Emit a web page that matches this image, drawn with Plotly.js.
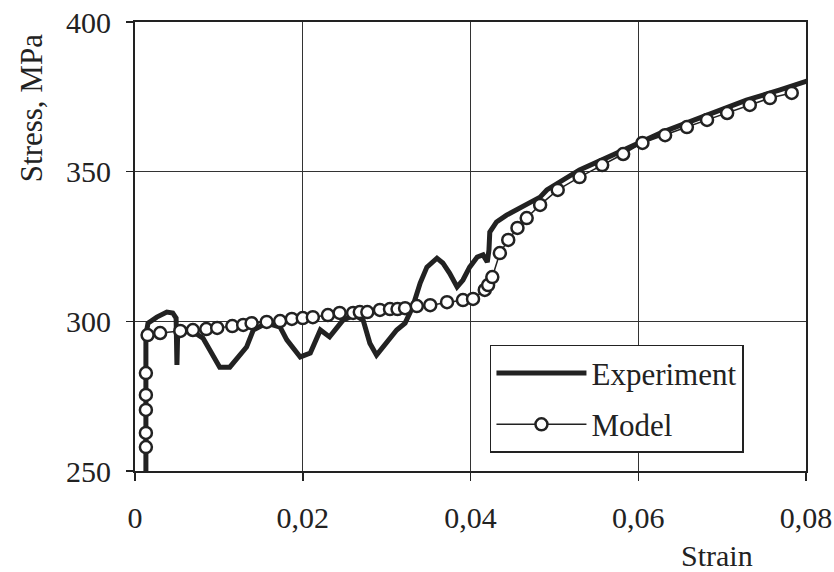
<!DOCTYPE html>
<html>
<head>
<meta charset="utf-8">
<script src="https://cdn.plot.ly/plotly-3.0.1.min.js"></script>
<style>
html,body{margin:0;padding:0;background:#fff;}
#chart{width:834px;height:572px;}
</style>
</head>
<body>
<div id="chart"></div>
<script>
// Experiment curve (strain, stress MPa)
var expStrain = [0.0013,0.0013,0.00155,0.0026,0.0038,0.0045,0.0049,0.0050,0.0051,0.0066,0.0081,0.0092,0.0101,0.0113,0.0125,0.0133,0.0141,0.0157,0.0173,0.0181,0.0197,0.0209,0.0221,0.0232,0.0248,0.0262,0.0272,0.0280,0.0288,0.0300,0.0312,0.0322,0.0331,0.0340,0.0348,0.0360,0.0367,0.0375,0.0384,0.0391,0.0399,0.0408,0.0415,0.0420,0.0422,0.0423,0.0431,0.0443,0.0459,0.0483,0.0491,0.0530,0.0570,0.0629,0.0682,0.0729,0.0769,0.0805];
var expStress = [250,295.4,299.4,301.4,303.1,302.8,301.1,285.4,297.8,297.1,294.4,288.7,284.7,284.7,288.7,291.4,297.1,299.4,298.1,293.8,288.1,289.4,297.1,294.8,300.4,302.1,300.4,292.7,288.7,292.7,297.1,299.4,304.8,312.8,318.1,321.1,319.5,316.1,311.5,313.8,318.1,321.5,322.2,319.8,323.8,329.8,333.2,335.5,337.9,341.5,343.9,350.6,355.6,363.2,368.9,373.9,377.3,380.6];

// Model points (strain, stress MPa)
var modStrain = [0.0013,0.0013,0.0013,0.0013,0.0013,0.0015,0.0030,0.0054,0.0069,0.0085,0.0098,0.0116,0.0129,0.0139,0.0157,0.0173,0.0187,0.0200,0.0212,0.0230,0.0244,0.0260,0.0268,0.0277,0.0292,0.0304,0.0313,0.0322,0.0336,0.0352,0.0372,0.0391,0.0403,0.0417,0.0421,0.0426,0.0435,0.0445,0.0456,0.0467,0.0483,0.0504,0.0530,0.0557,0.0582,0.0605,0.0632,0.0658,0.0682,0.0706,0.0733,0.0757,0.0783];
var modStress = [258.0,262.7,270.4,275.4,282.7,295.4,296.1,296.8,297.1,297.4,297.8,298.4,298.8,299.4,299.8,300.1,300.8,301.1,301.4,302.1,302.8,302.8,303.1,303.1,303.8,304.1,304.1,304.4,305.1,305.4,306.4,307.1,307.5,310.5,312.1,314.8,322.8,327.2,331.2,334.5,338.9,343.9,348.2,352.2,355.9,359.6,362.2,364.9,367.3,369.6,372.3,374.6,376.3];

var xTickVals = [0,0.02,0.04,0.06,0.08];
var xTickText = ['0','0,02','0,04','0,06','0,08'];
var yTickVals = [250,300,350,400];
var yTickText = ['250','300','350','400'];

var FONT = 'Liberation Serif, Times New Roman, serif';
var INK = '#222';

var traces = [
  {x: expStrain, y: expStress, name: 'Experiment', type: 'scatter', mode: 'lines',
   line: {color: INK, width: 5}, legendgroup: 'a'},
  {x: modStrain, y: modStress, name: 'Model', type: 'scatter', mode: 'lines+markers',
   line: {color: INK, width: 1.5},
   marker: {symbol: 'circle', size: 12, color: '#fff', line: {color: INK, width: 2.5}},
   legendgroup: 'b'}
];

var layout = {
  width: 834, height: 572,
  margin: {l: 135, r: 28, t: 22, b: 101},
  paper_bgcolor: '#fff', plot_bgcolor: '#fff',
  font: {family: FONT, size: 30, color: INK},
  showlegend: true,
  legend: {x: 0.529, y: 0.281, xanchor: 'left', yanchor: 'top',
    bgcolor: '#fff', bordercolor: INK, borderwidth: 1.5,
    font: {family: FONT, size: 31, color: INK},
    traceorder: 'grouped', tracegroupgap: 8, itemwidth: 90},
  xaxis: {range: [0, 0.08], tickvals: xTickVals, ticktext: xTickText,
    showgrid: true, gridcolor: '#333', gridwidth: 1,
    showline: true, linecolor: INK, linewidth: 2, mirror: true,
    ticks: 'outside', ticklen: 8, tickcolor: INK, tickwidth: 1.5,
    ticklabelstandoff: 11, zeroline: false,
    tickfont: {family: FONT, size: 30, color: INK}},
  yaxis: {range: [250, 400], tickvals: yTickVals, ticktext: yTickText,
    showgrid: true, gridcolor: '#333', gridwidth: 1,
    showline: true, linecolor: INK, linewidth: 2, mirror: true,
    ticks: 'outside', ticklen: 7, tickcolor: INK, tickwidth: 1.5,
    ticklabelstandoff: 9, zeroline: false,
    tickfont: {family: FONT, size: 30, color: INK}},
  annotations: [
    {text: 'Stress, MPa', xref: 'paper', yref: 'paper', x: -0.155, y: 0.808,
     xanchor: 'center', yanchor: 'middle', textangle: -90, showarrow: false,
     font: {family: FONT, size: 31, color: INK}},
    {text: 'Strain', xref: 'paper', yref: 'paper', x: 0.867, y: -0.189,
     xanchor: 'center', yanchor: 'middle', showarrow: false,
     font: {family: FONT, size: 30, color: INK}}
  ]
};

Plotly.newPlot('chart', traces, layout, {displayModeBar: false, staticPlot: true});
</script>
</body>
</html>
